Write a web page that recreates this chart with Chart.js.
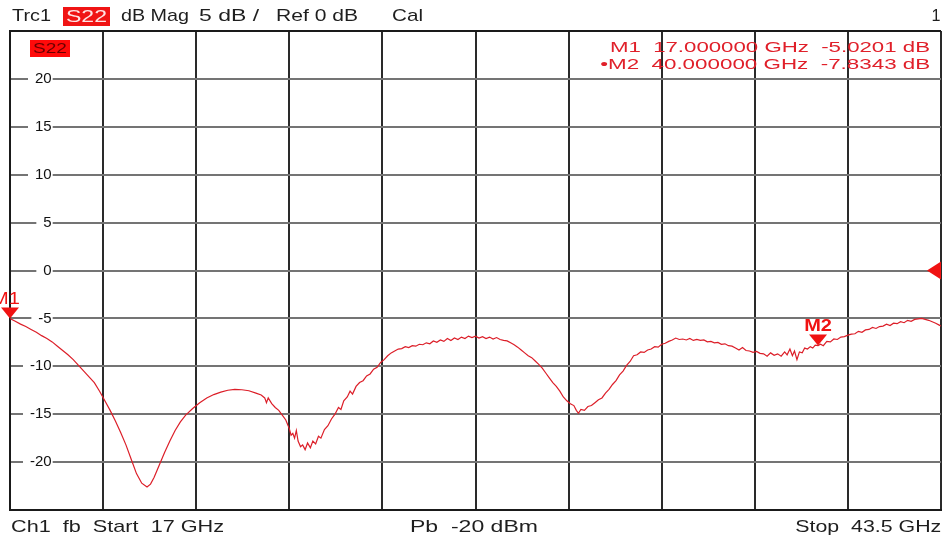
<!DOCTYPE html>
<html>
<head>
<meta charset="utf-8">
<script src="https://cdn.jsdelivr.net/npm/chart.js@4.4.1/dist/chart.umd.min.js"></script>
<style>
  html,body{margin:0;padding:0;background:#fff;}
  #wrap{position:relative;width:946px;height:539px;overflow:hidden;font-family:"Liberation Sans",Arial,sans-serif;}
  #c{position:absolute;left:0;top:0;}
  .t{position:absolute;font-size:17px;line-height:20px;color:#1e1e1e;white-space:pre;transform-origin:left center;}
  .r{transform-origin:right center;}
  .red{color:#e0202a;font-size:15px;line-height:18px;}
  .box{position:absolute;overflow:visible;}
  .box span{position:absolute;left:0;top:0;white-space:pre;transform-origin:left center;}
</style>
</head>
<body>
<div id="wrap">
  <canvas id="c" width="946" height="539"></canvas>
  <span class="t" data-w="39" style="left:12px;top:6px;">Trc1</span>
  <div class="box" style="left:63px;top:7px;width:47px;height:19px;background:#f01414;">
    <span data-w="41" style="left:3px;top:0px;font-size:17px;line-height:19px;color:#ffe4e4;">S22</span>
  </div>
  <span class="t" data-w="68" style="left:121px;top:6px;">dB Mag</span>
  <span class="t" data-w="60" style="left:199px;top:6px;">5 dB /</span>
  <span class="t" data-w="82" style="left:276px;top:6px;">Ref 0 dB</span>
  <span class="t" data-w="31" style="left:392px;top:6px;">Cal</span>
  <span class="t r" data-w="9" style="right:6px;top:6px;">1</span>
  <div class="box" style="left:30px;top:40px;width:40px;height:17px;background:#ff0a0a;">
    <span data-w="34" style="left:3px;top:-1px;font-size:15px;line-height:18px;color:#6a0000;">S22</span>
  </div>
  <span class="t r red" data-w="320" style="right:16px;top:38px;">M1  17.000000 GHz  -5.0201 dB</span>
  <span class="t r red" data-w="330" style="right:16px;top:55px;">•M2  40.000000 GHz  -7.8343 dB</span>
  <span class="t" data-w="213" style="left:11px;top:517px;">Ch1  fb  Start  17 GHz</span>
  <span class="t" data-w="128" style="left:410px;top:517px;">Pb  -20 dBm</span>
  <span class="t r" data-w="146" style="right:5px;top:517px;">Stop  43.5 GHz</span>
</div>
<script>
// ---- data (frequency in GHz, S22 in dB) ----
const freq = [
17.00,17.15,17.30,17.45,17.60,17.75,17.90,18.05,18.20,18.35,18.50,18.65,18.80,18.95,19.10,19.25,19.40,19.55,19.70,19.85,
20.00,20.15,20.30,20.45,20.60,20.75,20.90,21.00,21.10,21.25,21.40,21.55,21.70,21.85,22.00,22.20,22.40,22.60,22.80,23.00,
23.20,23.40,23.60,23.80,24.00,24.15,24.25,24.30,24.35,24.45,24.55,24.65,24.75,24.85,24.95,25.00,25.05,25.10,25.15,25.20,
25.27,25.33,25.40,25.47,25.55,25.62,25.70,25.78,25.85,25.95,26.05,26.15,26.25,26.35,26.42,26.50,26.60,26.68,26.75,26.85,
26.95,27.05,27.15,27.25,27.35,27.45,27.55,27.65,27.75,27.85,27.95,28.05,28.15,28.25,28.35,28.45,28.55,28.65,28.75,28.85,
28.95,29.05,29.15,29.25,29.35,29.45,29.55,29.65,29.75,29.85,29.95,30.05,30.15,30.25,30.35,30.45,30.55,30.65,30.75,30.85,
30.95,31.05,31.15,31.25,31.35,31.45,31.55,31.65,31.75,31.85,31.95,32.05,32.15,32.25,32.35,32.45,32.55,32.65,32.75,32.85,
32.95,33.05,33.12,33.18,33.25,33.35,33.45,33.55,33.65,33.75,33.85,33.95,34.05,34.15,34.25,34.35,34.45,34.55,34.65,34.75,
34.85,34.95,35.05,35.15,35.25,35.35,35.45,35.55,35.65,35.75,35.85,35.95,36.05,36.15,36.25,36.35,36.45,36.55,36.65,36.75,
36.85,36.95,37.05,37.15,37.25,37.35,37.45,37.55,37.65,37.75,37.85,37.95,38.05,38.15,38.25,38.35,38.45,38.55,38.65,38.75,
38.85,38.95,39.05,39.12,39.20,39.27,39.33,39.40,39.47,39.55,39.62,39.70,39.78,39.85,39.92,40.00,40.07,40.15,40.25,40.35,
40.45,40.55,40.65,40.75,40.85,40.95,41.05,41.15,41.25,41.35,41.45,41.55,41.65,41.75,41.85,41.95,42.05,42.15,42.25,42.35,
42.45,42.55,42.65,42.75,42.85,42.95,43.05,43.15,43.25,43.35,43.45,43.50
];
const s22 = [
-5.02,-5.30,-5.60,-5.85,-6.15,-6.45,-6.80,-7.10,-7.45,-7.90,-8.35,-8.80,-9.30,-9.90,-10.50,-11.10,-11.70,-12.60,-13.60,-14.60,
-15.70,-16.90,-18.20,-19.70,-21.20,-22.20,-22.60,-22.30,-21.60,-20.30,-19.00,-17.80,-16.70,-15.80,-15.10,-14.40,-13.80,-13.30,-12.95,-12.70,
-12.50,-12.40,-12.45,-12.55,-12.80,-13.00,-13.30,-13.80,-13.30,-13.90,-14.30,-14.60,-15.10,-15.60,-16.50,-17.20,-17.00,-17.50,-16.70,-17.80,
-18.40,-18.20,-18.70,-18.00,-18.50,-17.80,-18.10,-17.30,-17.50,-16.60,-16.20,-15.50,-15.00,-14.30,-14.50,-13.60,-13.20,-12.60,-12.90,-12.10,
-11.70,-11.50,-11.00,-10.80,-10.30,-10.10,-9.60,-9.30,-8.90,-8.60,-8.40,-8.20,-8.15,-7.95,-8.05,-7.85,-7.90,-7.70,-7.75,-7.55,
-7.65,-7.35,-7.50,-7.25,-7.40,-7.10,-7.30,-7.05,-7.20,-6.95,-7.10,-6.85,-7.00,-6.85,-7.05,-6.90,-7.10,-6.95,-7.15,-7.00,
-7.20,-7.30,-7.35,-7.55,-7.75,-8.00,-8.30,-8.60,-8.90,-9.10,-9.45,-9.80,-10.20,-10.70,-11.20,-11.70,-12.10,-12.60,-13.20,-13.60,
-13.90,-14.10,-14.60,-14.90,-14.50,-14.60,-14.20,-14.10,-13.80,-13.50,-13.30,-12.80,-12.40,-11.90,-11.50,-10.90,-10.50,-9.90,-9.50,-8.90,
-8.80,-8.50,-8.55,-8.30,-8.20,-7.95,-8.00,-7.70,-7.60,-7.40,-7.25,-7.05,-7.20,-7.15,-7.25,-7.10,-7.30,-7.20,-7.30,-7.25,
-7.45,-7.40,-7.55,-7.50,-7.70,-7.65,-7.85,-7.90,-8.10,-8.30,-8.05,-8.35,-8.40,-8.55,-8.45,-8.65,-8.70,-8.95,-8.60,-8.85,
-8.70,-8.95,-8.50,-8.80,-8.20,-8.90,-8.40,-9.30,-8.50,-8.60,-8.10,-8.20,-7.95,-8.10,-7.80,-7.83,-7.70,-7.85,-7.40,-7.45,
-7.15,-7.20,-6.95,-6.90,-6.75,-6.65,-6.60,-6.35,-6.45,-6.20,-6.15,-5.95,-6.05,-5.85,-5.80,-5.60,-5.75,-5.50,-5.55,-5.35,
-5.45,-5.20,-5.30,-5.10,-5.05,-5.00,-5.10,-5.20,-5.35,-5.50,-5.70,-5.80
];
const markerName  = ["M1", "M2"];
const markerFreq  = [17.0, 40.0];
const markerValue = [-5.0201, -7.8343];
const refLevel = 0;
const yTicks = [-25,-20,-15,-10,-5,0,5,10,15,20,25];

const FONT = '"Liberation Sans", Arial, sans-serif';

// stretch overlay texts to the widths measured on the reference
document.querySelectorAll('[data-w]').forEach(el => {
  const w = el.getBoundingClientRect().width;
  if (w > 0) el.style.transform = 'scaleX(' + (Number(el.dataset.w) / w).toFixed(3) + ')';
});

const markerPlugin = {
  id: 'markers',
  afterDatasetsDraw(chart) {
    const {ctx, chartArea, scales: {x, y}} = chart;
    ctx.save();
    ctx.fillStyle = '#f01212';
    markerFreq.forEach((f, i) => {
      const px = x.getPixelForValue(f);
      const py = y.getPixelForValue(markerValue[i]);
      ctx.beginPath();
      ctx.moveTo(px, py);
      ctx.lineTo(px - 9, py - 11);
      ctx.lineTo(px + 9, py - 11);
      ctx.closePath();
      ctx.fill();
      ctx.font = (i === 0 ? '' : 'bold ') + '16px ' + FONT;
      ctx.textAlign = 'center';
      ctx.textBaseline = 'alphabetic';
      ctx.save();
      ctx.translate(px - (i === 0 ? 4 : 0), py - 15);
      ctx.scale(1.25, 1);
      ctx.fillText(markerName[i], 0, 0);
      ctx.restore();
    });
    const ry = y.getPixelForValue(refLevel);
    const rx = chartArea.right;
    ctx.beginPath();
    ctx.moveTo(rx, ry - 9);
    ctx.lineTo(rx - 14, ry);
    ctx.lineTo(rx, ry + 9);
    ctx.closePath();
    ctx.fill();
    ctx.restore();
  }
};

new Chart(document.getElementById('c'), {
  type: 'line',
  data: {
    datasets: [{
      data: freq.map((f, i) => ({x: f, y: s22[i]})),
      borderColor: '#dc1e28',
      borderWidth: 1.2,
      pointRadius: 0,
      tension: 0,
      fill: false
    }]
  },
  options: {
    responsive: false,
    animation: false,
    devicePixelRatio: 1,
    layout: {padding: {left: 10, right: 5, top: 31, bottom: 27}},
    plugins: {legend: {display: false}, tooltip: {enabled: false}, title: {display: false}},
    scales: {
      x: {
        type: 'linear', min: 17, max: 43.5,
        afterFit: (s) => { s.height = 0; },
        ticks: {display: false, count: 11},
        grid: {color: '#2a2a2a', lineWidth: 2, drawTicks: false},
        border: {color: '#1a1a1a', width: 2}
      },
      y: {
        type: 'linear', min: -25, max: 25,
        afterFit: (s) => { s.width = 0; },
        afterBuildTicks: (s) => { s.ticks = yTicks.map(v => ({value: v})); },
        ticks: {
          mirror: true, crossAlign: 'far', padding: 20,
          font: {family: FONT, size: 15},
          color: '#111111',
          callback: (v) => (Math.abs(v) === 25 ? '' : String(v)),
          showLabelBackdrop: (c) => Math.abs(c.tick.value) !== 25,
          backdropColor: '#ffffff',
          backdropPadding: {left: 7, right: 1, top: 0, bottom: 0}
        },
        grid: {
          color: (c) => (c.tick && Math.abs(c.tick.value) === 25 ? '#1a1a1a' : '#747474'),
          lineWidth: 2, drawTicks: false
        },
        border: {color: '#1a1a1a', width: 2}
      }
    }
  },
  plugins: [markerPlugin]
});
</script>
</body>
</html>
